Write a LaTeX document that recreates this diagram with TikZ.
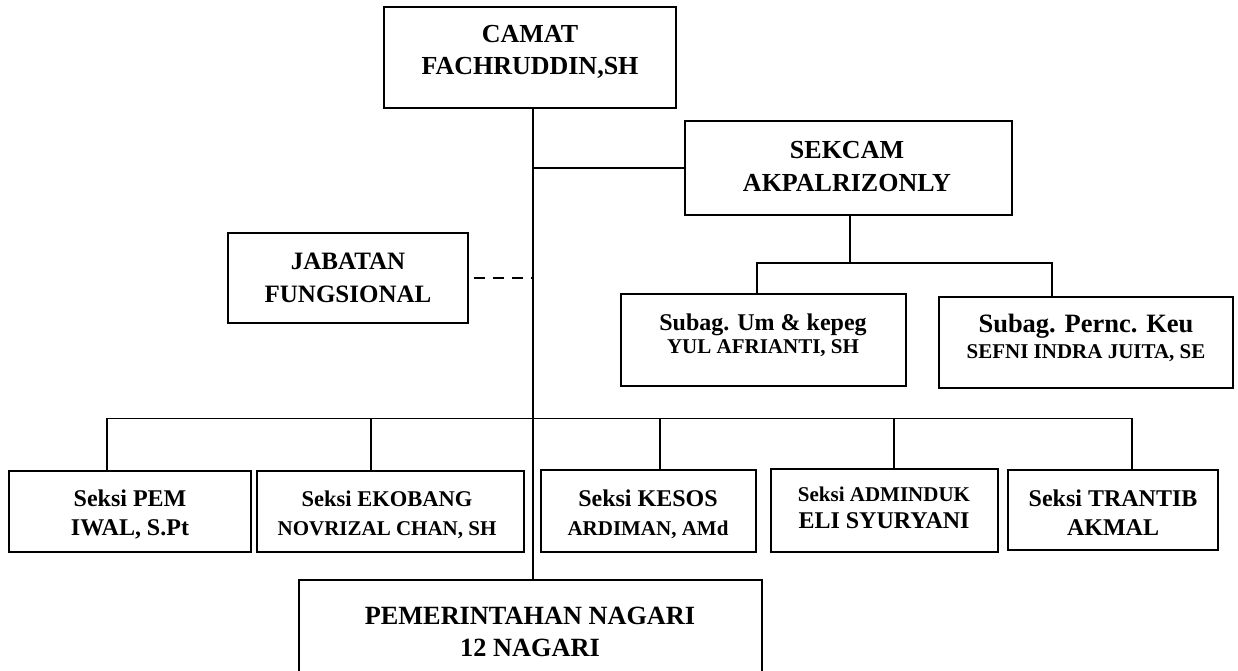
\documentclass[tikz,border=0pt]{standalone}
\usepackage{fontspec}
\setmainfont{Liberation Serif}
\newcommand\fsz[1]{\fontsize{#1pt}{#1pt}\selectfont\bfseries}
\begin{document}
\begin{tikzpicture}[x=1pt,y=-1pt,
  box/.style={draw, line width=1.8pt, inner sep=0pt},
  lbl/.style={inner sep=0pt, anchor=base},
  conn/.style={line width=1.3pt},
  dconn/.style={line width=1.3pt, dash pattern=on 11pt off 8pt, dash phase=14pt}]
\useasboundingbox (0,0) rectangle (1238,671);
% boxes
\node[box, minimum width=292pt, minimum height=101pt] (camat) at (530,57.5) {};
\node[box, minimum width=327pt, minimum height=94pt] (sekcam) at (848.5,168) {};
\node[box, minimum width=240pt, minimum height=90pt] (jabatan) at (348,278) {};
\node[box, minimum width=285pt, minimum height=92pt] (subag1) at (763.5,340) {};
\node[box, minimum width=294pt, minimum height=91pt] (subag2) at (1086,342.5) {};
\node[box, minimum width=242pt, minimum height=81pt] (pem) at (130,511.5) {};
\node[box, minimum width=267pt, minimum height=81pt] (ekobang) at (390.5,511.5) {};
\node[box, minimum width=215pt, minimum height=82pt] (kesos) at (648.5,511) {};
\node[box, minimum width=227pt, minimum height=83pt] (adminduk) at (884.5,510.5) {};
\node[box, minimum width=210pt, minimum height=80pt] (trantib) at (1113,510) {};
\node[box, minimum width=463pt, minimum height=110pt] (nagari) at (530.5,635) {};
% labels
\node[lbl, font=\fsz{26}] (camatA) at (530,43) {CAMAT};
\node[lbl, font=\fsz{26}] (camatB) at (530,75) {FACHRUDDIN,SH};
\node[lbl, font=\fsz{26}] (sekcamA) at (847,158.5) {SEKCAM};
\node[lbl, font=\fsz{26}] (sekcamB) at (847,191.5) {AKPALRIZONLY};
\node[lbl, font=\fsz{25}] (jabatanA) at (348,269) {JABATAN};
\node[lbl, font=\fsz{25}] (jabatanB) at (348,302) {FUNGSIONAL};
\node[lbl, font=\fsz{24}] (subag1A) at (763,330) {Subag. Um \& kepeg};
\node[lbl, font=\fsz{21}] (subag1B) at (763,353) {YUL AFRIANTI, SH};
\node[lbl, font=\fsz{26.5}] (subag2A) at (1086,332) {Subag. Pernc. Keu};
\node[lbl, font=\fsz{21}] (subag2B) at (1086,358) {SEFNI INDRA JUITA, SE};
\node[lbl, font=\fsz{24}] (pemA) at (130,506) {Seksi PEM};
\node[lbl, font=\fsz{24}] (pemB) at (130,535) {IWAL, S.Pt};
\node[lbl, font=\fsz{22.5}] (ekobangA) at (387,506) {Seksi EKOBANG};
\node[lbl, font=\fsz{21}] (ekobangB) at (387,535) {NOVRIZAL CHAN, SH};
\node[lbl, font=\fsz{24}] (kesosA) at (648,506) {Seksi KESOS};
\node[lbl, font=\fsz{21}] (kesosB) at (648,535) {ARDIMAN, AMd};
\node[lbl, font=\fsz{21}] (admindukA) at (884,501) {Seksi ADMINDUK};
\node[lbl, font=\fsz{24}] (admindukB) at (884,528) {ELI SYURYANI};
\node[lbl, font=\fsz{24}] (trantibA) at (1113,506) {Seksi TRANTIB};
\node[lbl, font=\fsz{24}] (trantibB) at (1113,535) {AKMAL};
\node[lbl, font=\fsz{26.3}] (nagariA) at (530,624) {PEMERINTAHAN NAGARI};
\node[lbl, font=\fsz{26.3}] (nagariB) at (530,656) {12 NAGARI};
% connector coordinates
\coordinate (spine) at (533,0);
\coordinate (sbusM) at (850,263);
\coordinate (sbusL) at (757,263);
\coordinate (sbusR) at (1052,263);
\coordinate (busL) at (107,418.5);
\coordinate (busE) at (371,418.5);
\coordinate (busK) at (660,418.5);
\coordinate (busA) at (894,418.5);
\coordinate (busR) at (1132,418.5);
% connectors
\draw[conn] (camat.south -| spine) -- (nagari.north -| spine);
\draw[conn] (sekcam.west -| spine) -- (sekcam.west);
\draw[dconn] (jabatan.east) -- (jabatan.east -| spine);
\draw[conn] (sekcam.south -| sbusM) -- (sbusM);
\draw[conn] (subag1.north -| sbusL) -- (sbusL) -- (sbusR) -- (subag2.north -| sbusR);
\draw[conn] (pem.north -| busL) -- (busL) -- (busR) -- (trantib.north -| busR);
\draw[conn] (busE) -- (ekobang.north -| busE);
\draw[conn] (busK) -- (kesos.north -| busK);
\draw[conn] (busA) -- (adminduk.north -| busA);
\end{tikzpicture}
\end{document}
